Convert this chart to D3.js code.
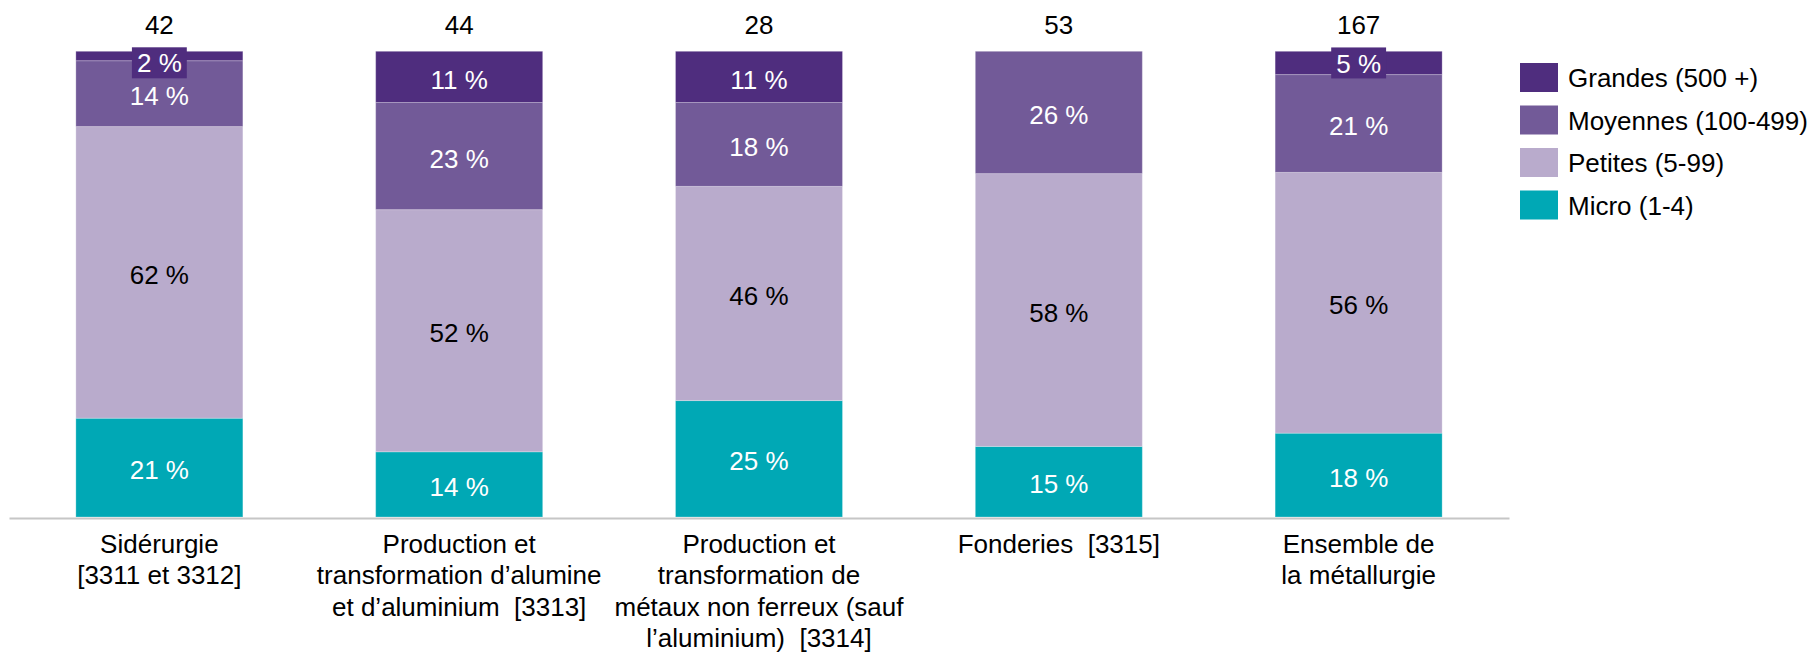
<!DOCTYPE html>
<html>
<head>
<meta charset="utf-8">
<script src="https://cdn.jsdelivr.net/npm/d3@7"></script>
<style>
  html, body { margin: 0; padding: 0; background: #ffffff; }
  svg { display: block; font-family: "Liberation Sans", Arial, sans-serif; }
  text { white-space: pre; }
</style>
</head>
<body>
<svg id="chart" width="1816" height="653"></svg>
<script>
// Répartition des entreprises par taille, par sous-secteur de la métallurgie
const categories = [
  "Sidérurgie\n[3311 et 3312]",
  "Production et\ntransformation d’alumine\net d’aluminium  [3313]",
  "Production et\ntransformation de\nmétaux non ferreux (sauf\nl’aluminium)  [3314]",
  "Fonderies  [3315]",
  "Ensemble de\nla métallurgie"
];
const totals = [42, 44, 28, 53, 167];

const seriesKeys = ["Micro (1-4)", "Petites (5-99)", "Moyennes (100-499)", "Grandes (500 +)"];
const micro    = [21, 14, 25, 15, 18];
const petites  = [62, 52, 46, 58, 56];
const moyennes = [14, 23, 18, 26, 21];
const grandes  = [2, 11, 11, 0, 5];

const colors = ["#00a8b5", "#b9abcc", "#725a98", "#4f2d7e"];
const labelColors = ["#ffffff", "#000000", "#ffffff", "#ffffff"];

const rows = categories.map((c, i) => ({
  cat: c,
  [seriesKeys[0]]: micro[i],
  [seriesKeys[1]]: petites[i],
  [seriesKeys[2]]: moyennes[i],
  [seriesKeys[3]]: grandes[i]
}));

const svg = d3.select("#chart");
const FS = 26;

const x = d3.scaleBand()
  .domain(categories)
  .range([9, 1509])
  .paddingInner(0.443)
  .paddingOuter(0.223);

const y = d3.scaleLinear().domain([0, 1]).range([517, 51.3]);

const stack = d3.stack().keys(seriesKeys).offset(d3.stackOffsetExpand);
const series = stack(rows);

const layers = svg.append("g").selectAll("g")
  .data(series)
  .join("g")
  .attr("fill", (d, i) => colors[i]);

layers.selectAll("rect")
  .data(d => d)
  .join("rect")
  .attr("x", d => x(d.data.cat))
  .attr("width", x.bandwidth())
  .attr("y", d => y(d[1]))
  .attr("height", d => Math.max(0, y(d[0]) - y(d[1])))
  .attr("stroke", "#ffffff")
  .attr("stroke-opacity", 0.25)
  .attr("stroke-width", 1);

// Étiquettes de pourcentage dans chaque segment
const labelG = svg.append("g").attr("font-size", FS).attr("text-anchor", "middle");
series.forEach((s, si) => {
  s.forEach((d, ci) => {
    const v = d.data[s.key];
    if (!v) return;
    const cx = x(d.data.cat) + x.bandwidth() / 2;
    const cy = (y(d[0]) + y(d[1])) / 2;
    const segH = y(d[0]) - y(d[1]);
    const txt = v + " %";
    if (segH < 30) {
      // segment trop fin : étiquette sur fond de la couleur de la série
      const bh = 31;
      const top = Math.max(cy - bh / 2, y(1) - 4);
      const w = txt.length * FS * 0.55 + 12;
      labelG.append("rect")
        .attr("x", cx - w / 2).attr("y", top)
        .attr("width", w).attr("height", bh)
        .attr("fill", colors[si]);
      labelG.append("text")
        .attr("x", cx).attr("y", top + bh / 2)
        .attr("dy", "0.37em")
        .attr("fill", labelColors[si])
        .text(txt);
    } else {
      labelG.append("text")
        .attr("x", cx).attr("y", cy + 2)
        .attr("dy", "0.37em")
        .attr("fill", labelColors[si])
        .text(txt);
    }
  });
});

// Effectifs totaux au-dessus des barres
svg.append("g").selectAll("text")
  .data(categories)
  .join("text")
  .attr("x", c => x(c) + x.bandwidth() / 2)
  .attr("y", 34)
  .attr("text-anchor", "middle")
  .attr("font-size", FS)
  .attr("fill", "#000")
  .text((c, i) => totals[i]);

// Axe horizontal
const axis = svg.append("g")
  .attr("transform", "translate(0,518)")
  .call(d3.axisBottom(x).tickSize(0).tickFormat(""));
axis.select(".domain").attr("stroke", "#c6c6c6").attr("stroke-width", 2);

// Libellés de catégories sur plusieurs lignes
const catG = svg.append("g").attr("font-size", FS).attr("text-anchor", "middle").attr("fill", "#000");
categories.forEach(c => {
  const t = catG.append("text")
    .attr("x", x(c) + x.bandwidth() / 2)
    .attr("y", 553);
  c.split("\n").forEach((line, li) => {
    t.append("tspan")
      .attr("x", x(c) + x.bandwidth() / 2)
      .attr("y", 553 + li * 31.3)
      .text(line);
  });
});

// Légende
const legendKeys = seriesKeys.slice().reverse();
const legend = svg.append("g").attr("font-size", FS);
legendKeys.forEach((k, i) => {
  const si = seriesKeys.indexOf(k);
  const gy = 63 + i * 42.5;
  legend.append("rect")
    .attr("x", 1520).attr("y", gy)
    .attr("width", 38).attr("height", 29)
    .attr("fill", colors[si]);
  legend.append("text")
    .attr("x", 1568).attr("y", gy + 14.5)
    .attr("dy", "0.37em")
    .attr("fill", "#000")
    .text(k);
});
</script>
</body>
</html>
